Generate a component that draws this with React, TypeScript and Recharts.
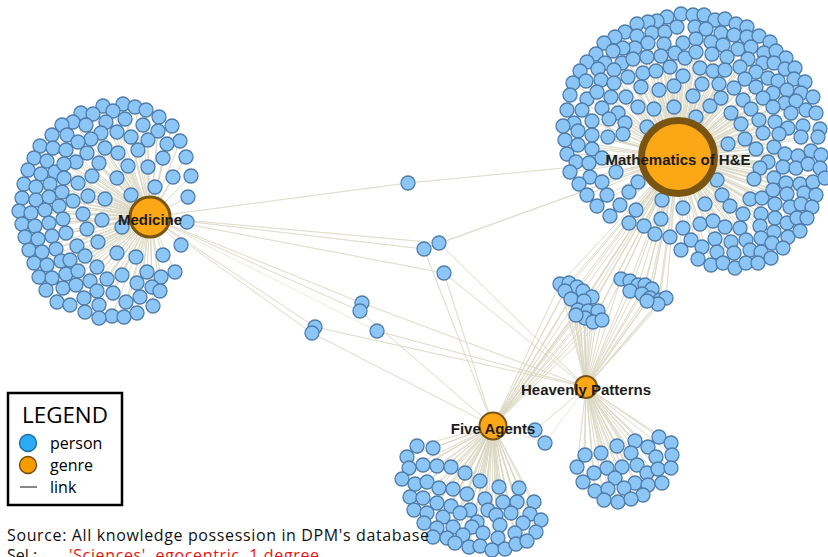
import { ScatterChart, Scatter, XAxis, YAxis } from 'recharts'

type Pt = [number, number]

// genre nodes, in layout coordinates (same units as the canvas)
const genres = [
  { name: 'Medicine', x: 150, y: 217 },
  { name: 'Mathematics of H&E', x: 678, y: 157 },
  { name: 'Heavenly Patterns', x: 586, y: 387 },
  { name: 'Five Agents', x: 493, y: 426 },
]

const medicinePeople: Pt[] = [
  [103, 106], [123, 104], [135, 107], [146, 110], [81, 113], [93, 114], [113, 111], [159, 117],
  [73, 122], [62, 125], [86, 125], [106, 122], [125, 119], [143, 125], [172, 126], [158, 131],
  [52, 135], [67, 135], [101, 133], [117, 132], [131, 137], [180, 141], [91, 139],
  [40, 146], [53, 148], [78, 142], [66, 150], [105, 148], [148, 140], [167, 144], [138, 150],
  [34, 158], [47, 161], [87, 153], [118, 153], [163, 158], [186, 157], [76, 162],
  [28, 170], [41, 174], [55, 172], [64, 164], [99, 163], [128, 166], [148, 167],
  [24, 184], [36, 187], [50, 184], [64, 178], [92, 176], [78, 183], [117, 178], [173, 177], [191, 176],
  [22, 198], [36, 200], [49, 197], [62, 192], [73, 201], [88, 196], [105, 199], [131, 195], [155, 187], [188, 197],
  [19, 211], [31, 213], [45, 210], [59, 206], [83, 214], [102, 220], [122, 227], [187, 222], [22, 224], [35, 226], [49, 223], [63, 219],
  [25, 237], [38, 239], [52, 236], [66, 233], [77, 246], [87, 229], [98, 242], [181, 245],
  [29, 250], [42, 252], [56, 249], [34, 263], [47, 265], [61, 261], [70, 260], [85, 256], [117, 253], [136, 257], [163, 255],
  [39, 277], [52, 278], [66, 274], [78, 271], [97, 267], [147, 272], [161, 277], [175, 272],
  [46, 290], [63, 288], [76, 285], [90, 281], [107, 279], [122, 275], [137, 283], [152, 287],
  [57, 302], [70, 305], [84, 298], [97, 291], [99, 305], [113, 293], [126, 302], [140, 297], [160, 291],
  [85, 312], [112, 316], [124, 317], [137, 313], [153, 306], [99, 318],
]

const mathPeople: Pt[] = [
  // upper left
  [681, 14], [667, 17], [657, 21], [648, 22], [637, 24], [625, 32], [615, 37], [604, 43], [637, 36], [652, 33],
  [665, 32], [677, 27], [683, 43], [664, 44], [648, 43], [635, 48], [623, 48], [613, 51], [596, 54], [587, 62],
  [605, 63], [622, 63], [633, 59], [647, 57], [661, 56], [675, 53], [685, 58], [580, 71], [598, 69], [614, 70],
  [628, 77], [643, 73], [656, 71], [670, 67], [683, 76], [573, 83], [586, 81], [601, 80], [614, 83], [641, 87],
  [659, 90], [674, 86], [570, 95], [587, 99], [597, 92], [611, 97], [626, 97], [638, 107], [654, 109], [674, 107],
  [567, 110], [582, 110], [602, 108], [618, 113], [574, 123], [592, 121], [609, 119], [625, 123], [563, 126], [578, 131],
  [592, 135], [608, 137], [623, 134], [647, 127],
  // upper right
  [693, 15], [704, 15], [715, 20], [725, 19], [736, 24], [747, 27], [695, 27], [706, 29], [721, 33], [734, 35],
  [747, 37], [759, 36], [770, 42], [696, 39], [711, 42], [723, 45], [738, 49], [751, 47], [764, 53], [776, 51],
  [786, 58], [696, 52], [712, 54], [727, 57], [748, 59], [763, 63], [774, 63], [785, 69], [795, 68], [700, 68],
  [713, 71], [725, 70], [740, 67], [756, 72], [768, 78], [778, 81], [794, 79], [805, 82], [702, 84], [719, 84],
  [734, 88], [745, 79], [756, 87], [773, 93], [787, 90], [801, 93], [813, 97], [693, 96], [710, 106], [721, 98],
  [743, 100], [763, 98], [785, 103], [796, 101], [806, 110], [696, 117], [731, 113], [751, 109], [773, 107], [791, 113],
  [816, 113], [741, 124], [759, 120], [775, 122], [788, 128], [803, 126], [820, 129], [763, 133], [779, 134], [801, 137],
  [818, 137],
  // lower left
  [565, 140], [578, 145], [592, 149], [567, 154], [576, 162], [589, 163], [602, 158], [570, 172], [590, 177],
  [602, 182], [616, 172], [579, 184], [587, 195], [607, 195], [629, 192], [638, 182], [597, 206], [620, 205], [610, 216],
  [636, 210], [662, 200], [683, 208], [629, 223], [644, 226], [655, 234], [670, 237], [661, 219], [683, 228], [681, 250],
  // lower right
  [728, 144], [745, 139], [756, 149], [774, 147], [785, 154], [798, 156], [811, 151], [821, 155], [768, 162], [783, 167],
  [796, 168], [808, 164], [820, 168], [760, 168], [717, 180], [754, 179], [774, 178], [786, 183], [800, 184], [813, 182],
  [825, 178], [722, 195], [750, 199], [762, 198], [773, 190], [787, 194], [804, 193], [816, 195], [705, 204], [730, 206],
  [743, 214], [761, 214], [775, 204], [790, 207], [801, 204], [812, 207], [700, 224], [713, 221], [725, 227], [740, 228],
  [760, 226], [775, 218], [787, 223], [797, 218], [807, 218], [691, 240], [715, 239], [731, 242], [746, 240], [761, 238],
  [774, 232], [788, 237], [800, 231], [702, 247], [717, 252], [734, 253], [750, 250], [761, 252], [772, 243], [783, 248],
  [698, 259], [711, 265], [723, 263], [735, 268], [746, 263], [758, 263], [771, 258],
]

const fiveAgentsPeople: Pt[] = [
  [417, 446], [433, 448], [407, 457], [423, 465], [437, 466], [451, 467], [409, 468], [465, 473], [480, 481],
  [402, 479], [415, 484], [427, 482], [439, 488], [453, 489], [467, 494], [485, 499], [499, 487], [519, 488],
  [410, 497], [423, 498], [437, 503], [451, 506], [470, 510], [488, 510], [503, 502], [517, 502], [534, 502],
  [414, 510], [427, 513], [443, 517], [460, 513], [477, 522], [496, 515], [511, 513], [530, 514],
  [424, 523], [437, 528], [453, 527], [472, 527], [500, 525], [523, 523], [541, 520],
  [433, 537], [447, 538], [463, 535], [483, 533], [498, 538], [515, 533], [536, 532],
  [455, 543], [469, 547], [480, 546], [492, 550], [505, 549], [516, 544], [527, 541],
]

const heavenlyPeople: Pt[] = [
  [635, 441], [659, 437], [671, 443], [617, 446], [648, 447], [672, 455], [585, 455], [601, 453], [631, 453], [656, 457],
  [577, 467], [594, 473], [607, 468], [622, 467], [637, 465], [647, 473], [658, 469], [671, 468], [583, 482], [615, 478],
  [635, 483], [648, 485], [662, 483], [595, 491], [608, 489], [624, 488], [643, 495], [604, 500], [618, 502], [631, 499],
]

// the two tight knots between Mathematics and the lower genres
const knotLeft: Pt[] = [
  [560, 284], [569, 283], [577, 287], [565, 291], [571, 299], [583, 291], [592, 297], [584, 301],
  [578, 310], [588, 311], [598, 311], [585, 318], [593, 322], [602, 320], [576, 315],
]
const knotRight: Pt[] = [
  [621, 279], [630, 281], [638, 285], [645, 285], [652, 289], [630, 291],
  [642, 294], [650, 298], [660, 300], [666, 298], [658, 304], [647, 301],
]

const bridgePeople: { at: Pt; genres: string[] }[] = [
  { at: [408, 183], genres: ['Medicine', 'Mathematics of H&E'] },
  { at: [424, 249], genres: ['Medicine', 'Mathematics of H&E', 'Five Agents'] },
  { at: [439, 243], genres: ['Medicine', 'Mathematics of H&E', 'Heavenly Patterns'] },
  { at: [444, 273], genres: ['Medicine', 'Five Agents', 'Heavenly Patterns'] },
  { at: [362, 303], genres: ['Medicine', 'Heavenly Patterns'] },
  { at: [360, 311], genres: ['Medicine', 'Five Agents'] },
  { at: [315, 327], genres: ['Medicine', 'Heavenly Patterns'] },
  { at: [312, 333], genres: ['Medicine', 'Five Agents'] },
  { at: [377, 331], genres: ['Medicine', 'Heavenly Patterns'] },
  { at: [535, 430], genres: ['Five Agents', 'Heavenly Patterns'] },
  { at: [545, 443], genres: ['Five Agents', 'Heavenly Patterns'] },
]

const clusterMembers: Record<string, Pt[]> = {
  'Medicine': medicinePeople,
  'Mathematics of H&E': [...mathPeople, ...knotLeft, ...knotRight],
  'Heavenly Patterns': [...heavenlyPeople, ...knotLeft, ...knotRight],
  'Five Agents': [...fiveAgentsPeople, ...knotLeft],
}

const GENRE_STYLE: Record<string, { r: number; sw: number }> = {
  'Medicine': { r: 20, sw: 3 },
  'Mathematics of H&E': { r: 36.5, sw: 7 },
  'Heavenly Patterns': { r: 11, sw: 2 },
  'Five Agents': { r: 13.5, sw: 2 },
}

const LINK = '#dad7c3'
const PERSON_FILL = '#8cc6f7'
const PERSON_STROKE = '#4f7ca8'
const GENRE_FILL = '#fca816'
const GENRE_STROKE = '#7a5511'

function starData(g: { x: number; y: number; name: string }) {
  const members = [
    ...clusterMembers[g.name],
    ...bridgePeople.filter((b) => b.genres.includes(g.name)).map((b) => b.at),
  ]
  return members.flatMap(([x, y]) => [{ x: g.x, y: g.y }, { x, y }])
}

const personData = [
  ...medicinePeople, ...mathPeople, ...fiveAgentsPeople, ...heavenlyPeople,
  ...knotLeft, ...knotRight, ...bridgePeople.map((b) => b.at),
].map(([x, y]) => ({ x, y }))

const PersonDot = (props: any) => (
  <circle cx={props.cx} cy={props.cy} r={7} fill={PERSON_FILL} stroke={PERSON_STROKE} strokeWidth={1.3} />
)

const GenreNode = (props: any) => {
  const s = GENRE_STYLE[props.payload.name]
  return (
    <g>
      <circle cx={props.cx} cy={props.cy} r={s.r} fill={GENRE_FILL} stroke={GENRE_STROKE} strokeWidth={s.sw} />
      <text
        x={props.cx}
        y={props.cy + 2}
        textAnchor="middle"
        dominantBaseline="central"
        fontFamily="'Liberation Sans', Arial, sans-serif"
        fontWeight="bold"
        fontSize={15}
        fill="#1c1c1c"
      >
        {props.payload.name}
      </text>
    </g>
  )
}

export default function App() {
  const font = "'Open Sans', 'DejaVu Sans', sans-serif"
  return (
    <div style={{ position: 'absolute', left: 0, top: 0, width: 828, height: 557, background: '#fff', overflow: 'hidden' }}>
      <ScatterChart width={828} height={557} margin={{ top: 0, right: 0, bottom: 0, left: 0 }}>
        <XAxis type="number" dataKey="x" domain={[0, 828]} hide allowDataOverflow />
        <YAxis type="number" dataKey="y" domain={[0, 557]} reversed hide allowDataOverflow />
        {genres.map((g) => (
          <Scatter
            key={'link-' + g.name}
            data={starData(g)}
            line={{ stroke: LINK, strokeWidth: 0.6 }}
            shape={() => <g />}
            isAnimationActive={false}
          />
        ))}
        <Scatter data={personData} shape={PersonDot} isAnimationActive={false} />
        <Scatter data={genres} shape={GenreNode} isAnimationActive={false} />
      </ScatterChart>
      <svg width={828} height={557} style={{ position: 'absolute', left: 0, top: 0, pointerEvents: 'none' }}>
        <rect x={8} y={393} width={114} height={112} fill="#fff" stroke="#000" strokeWidth={2.5} />
        <text x={22} y={423} fontFamily={font} fontSize={21} fill="#000" textLength={86} lengthAdjust="spacingAndGlyphs">LEGEND</text>
        <circle cx={28} cy={443} r={8.5} fill="#2aabf6" stroke="#1f6a9c" strokeWidth={1.3} />
        <text x={50} y={449} fontFamily={font} fontSize={16} fill="#000">person</text>
        <circle cx={28} cy={465} r={8.5} fill="#f49c00" stroke="#6e4a00" strokeWidth={1.3} />
        <text x={50} y={471} fontFamily={font} fontSize={16} fill="#000">genre</text>
        <line x1={20} y1={487} x2={37} y2={487} stroke="#888" strokeWidth={2} />
        <text x={50} y={493} fontFamily={font} fontSize={16} fill="#000">link</text>
        <text x={7} y={541} fontFamily={font} fontSize={16} fill="#111" textLength={422} lengthAdjust="spacing">
          Source: All knowledge possession in DPM's database
        </text>
        <text x={7} y={561} fontFamily={font} fontSize={16} fill="#111">Sel.:</text>
        <text x={69} y={561} fontFamily={font} fontSize={16} fill="#e8140c" textLength={250} lengthAdjust="spacing">
          'Sciences', egocentric, 1 degree
        </text>
      </svg>
    </div>
  )
}
